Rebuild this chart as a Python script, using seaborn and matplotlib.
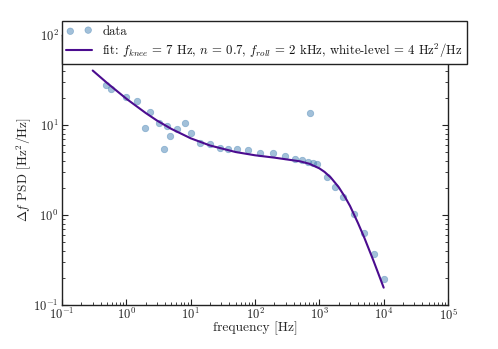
import matplotlib
matplotlib.use("Agg")
import matplotlib.pyplot as plt
import seaborn as sns
import numpy as np
import pandas as pd

# measured PSD points
freq = [0.48, 0.58, 1.0, 1.47, 1.93, 2.36, 3.22, 3.85, 4.33, 4.82, 6.07, 8.17, 10.0,
        14.0, 19.8, 28.9, 37.7, 52.5, 78.7, 121, 190, 296, 414, 532, 667, 708, 806, 910,
        1294, 1735, 2335, 3421, 5000, 7000, 10120]
psd = [28.0, 25.1, 20.3, 18.5, 9.33, 14.1, 10.4, 5.45, 9.75, 7.55, 8.96, 10.4, 8.09,
       6.31, 6.2, 5.6, 5.37, 5.37, 5.27, 4.85, 4.85, 4.49, 4.19, 4.13, 3.91, 13.5, 3.78, 3.66,
       2.62, 2.06, 1.57, 1.03, 0.636, 0.369, 0.196]

# fit curve
fit_freq = [0.3, 0.5, 1, 2, 3, 5, 10, 20, 50, 100, 200, 500, 700, 1000, 1200, 1500,
            2000, 2500, 3000, 4000, 5000, 7000, 10000]
fit_psd = [40.3, 29.4, 19.6, 13.6, 11.2, 9.06, 7.12, 5.92, 5.01, 4.61, 4.34, 3.95, 3.71,
           3.30, 3.02, 2.62, 2.04, 1.59, 1.26, 0.81, 0.56, 0.306, 0.156]

data_label = "data"
fit_label = r"fit: $f_{knee}$ = 7 Hz, $n$ = 0.7, $f_{roll}$ = 2 kHz, white-level = 4 Hz$^2$/Hz"

sns.set_style("ticks")
plt.rcParams.update({
    "font.family": ["cmr10", "DejaVu Serif"],
    "mathtext.fontset": "cm",
    "axes.formatter.use_mathtext": True,
    "axes.unicode_minus": False,
    "xtick.direction": "in",
    "ytick.direction": "in",
    "xtick.top": True,
    "ytick.right": True,
    "axes.edgecolor": "#222222",
    "axes.linewidth": 1.0,
    "xtick.major.size": 4,
    "ytick.major.size": 4,
    "xtick.minor.size": 2,
    "ytick.minor.size": 2,
    "xtick.labelsize": 9,
    "ytick.labelsize": 9,
    "xtick.major.pad": 1.5,
    "ytick.major.pad": 2.5,
    "xtick.color": "#222222",
    "ytick.color": "#222222",
    "text.color": "#111111",
})

fig = plt.figure(figsize=(4.98, 3.49), dpi=100)
ax = fig.add_axes([0.1245, 0.126, 0.7751, 0.7737])
ax.set_xscale("log")
ax.set_yscale("log")

df = pd.DataFrame({"f": freq, "p": psd})
dfit = pd.DataFrame({"f": fit_freq, "p": fit_psd})

sns.scatterplot(data=df, x="f", y="p", ax=ax, color="#4682B4", alpha=0.5, s=22,
                edgecolor="#4682B4", linewidth=0.5, label=data_label, zorder=2)
sns.lineplot(data=dfit, x="f", y="p", ax=ax, color="#4B0C8F", linewidth=1.5,
             sort=False, estimator=None, label=fit_label, zorder=3)

ax.set_xlim(0.1, 1e5)
ax.set_ylim(0.1, 100)
ax.set_xlabel("frequency [Hz]", fontsize=9.7)
ax.set_ylabel(r"$\Delta f$ PSD [Hz$^2$/Hz]", fontsize=9.5)
ax.xaxis.set_label_coords(0.5, -0.060)
ax.yaxis.set_label_coords(-0.075, 0.5)

leg = ax.legend(loc="upper left", bbox_to_anchor=(0.1245, 0.9398),
                bbox_transform=fig.transFigure, borderaxespad=0, fontsize=9.2,
                scatterpoints=2, fancybox=False, framealpha=1, edgecolor="#222222",
                handlelength=2.0, borderpad=0.35, labelspacing=0.3)
leg.get_frame().set_linewidth(1.0)

fig.savefig("out.png", dpi=100)
